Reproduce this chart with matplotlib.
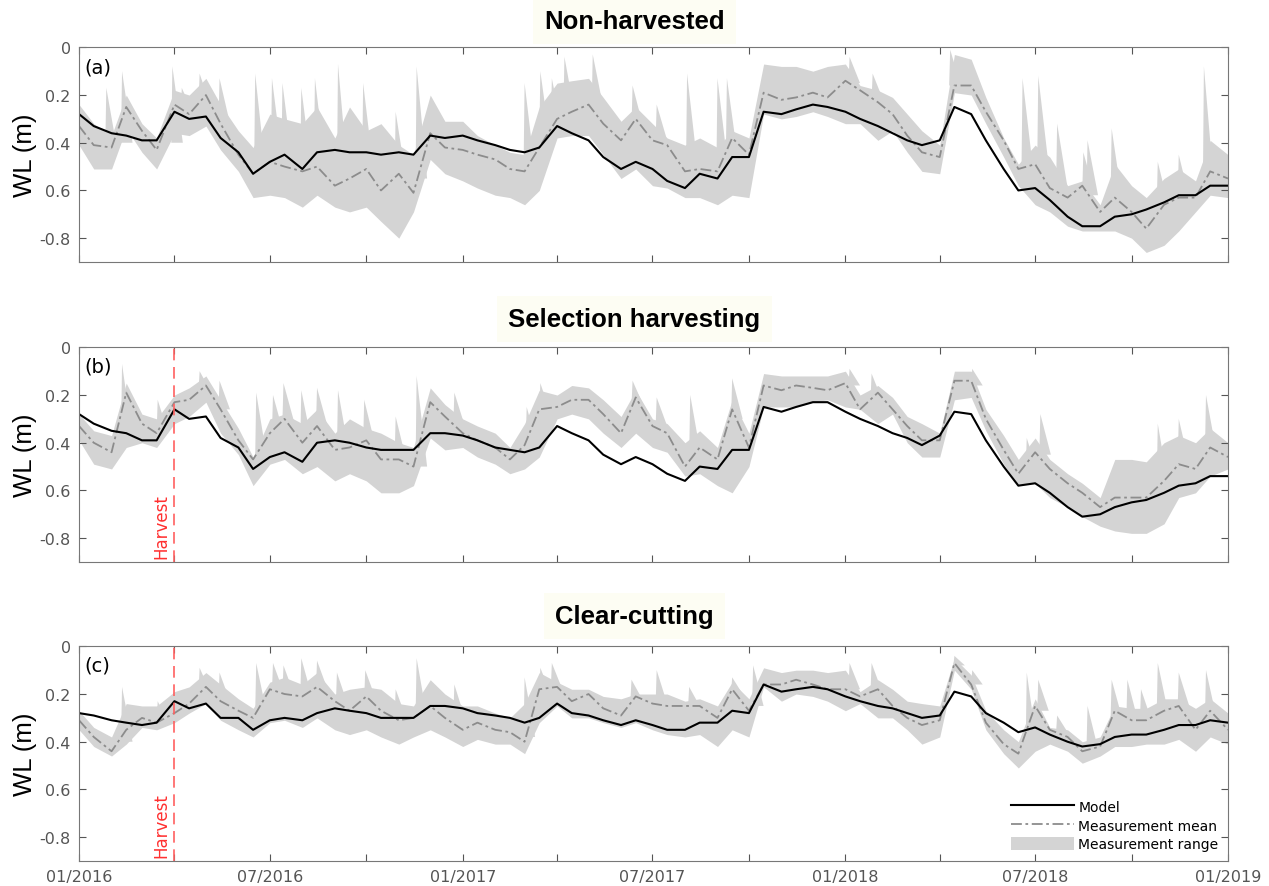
import numpy as np
import pandas as pd
import matplotlib
matplotlib.use('Agg')
import matplotlib.pyplot as plt
from matplotlib.lines import Line2D
from matplotlib.patches import Patch

# fechas: 1 y 16 de cada mes, 01/2016 - 01/2019
fechas = pd.date_range('2016-01-01', '2019-01-01', freq='SMS')
harvest = pd.Timestamp('2016-04-01')

titulos = ['Non-harvested', 'Selection harvesting', 'Clear-cutting']
letras = ['(a)', '(b)', '(c)']

## (a) Non-harvested
a_model = [0.28, 0.33, 0.36, 0.37, 0.39, 0.39, 0.27, 0.30, 0.29, 0.38, 0.44, 0.53, 0.48, 0.45, 0.51, 0.44, 0.43, 0.44, 0.44, 0.45, 0.44, 0.45, 0.37, 0.38,
           0.37, 0.39, 0.41, 0.43, 0.44, 0.42, 0.33, 0.36, 0.39, 0.46, 0.51, 0.48, 0.51, 0.56, 0.59, 0.53, 0.55, 0.46, 0.46, 0.27, 0.28, 0.26, 0.24, 0.25,
           0.27, 0.30, 0.33, 0.36, 0.39, 0.41, 0.39, 0.25, 0.28, 0.39, 0.51, 0.60, 0.59, 0.64, 0.71, 0.75, 0.75, 0.71, 0.70, 0.68, 0.65, 0.62, 0.62, 0.58,
           0.58]
a_mean = [0.33, 0.41, 0.42, 0.25, 0.35, 0.43, 0.24, 0.28, 0.20, 0.32, 0.45, 0.53, 0.48, 0.50, 0.52, 0.50, 0.58, 0.55, 0.51, 0.60, 0.53, 0.61, 0.36, 0.42,
          0.43, 0.45, 0.47, 0.51, 0.52, 0.42, 0.30, 0.27, 0.24, 0.32, 0.39, 0.30, 0.39, 0.41, 0.52, 0.51, 0.52, 0.38, 0.45, 0.19, 0.22, 0.21, 0.19, 0.21,
          0.14, 0.18, 0.23, 0.28, 0.37, 0.44, 0.46, 0.16, 0.16, 0.27, 0.39, 0.51, 0.49, 0.59, 0.63, 0.58, 0.69, 0.63, 0.69, 0.76, 0.66, 0.63, 0.63, 0.52,
          0.55]
a_low = [0.41, 0.51, 0.51, 0.34, 0.44, 0.51, 0.36, 0.37, 0.33, 0.43, 0.52, 0.63, 0.62, 0.63, 0.67, 0.62, 0.67, 0.69, 0.67, 0.73, 0.80, 0.69, 0.47, 0.53,
         0.56, 0.59, 0.62, 0.63, 0.66, 0.60, 0.38, 0.37, 0.37, 0.45, 0.55, 0.51, 0.58, 0.59, 0.63, 0.63, 0.66, 0.62, 0.63, 0.28, 0.30, 0.29, 0.27, 0.29,
         0.32, 0.32, 0.39, 0.35, 0.44, 0.52, 0.53, 0.19, 0.20, 0.32, 0.46, 0.58, 0.66, 0.69, 0.75, 0.77, 0.77, 0.77, 0.80, 0.86, 0.83, 0.77, 0.69, 0.62,
         0.63]
a_high = [0.24, 0.32, 0.37, 0.20, 0.32, 0.38, 0.18, 0.20, 0.13, 0.24, 0.35, 0.42, 0.28, 0.30, 0.32, 0.25, 0.38, 0.25, 0.35, 0.32, 0.41, 0.45, 0.20, 0.31,
          0.31, 0.37, 0.41, 0.44, 0.45, 0.25, 0.15, 0.14, 0.13, 0.21, 0.31, 0.25, 0.32, 0.38, 0.41, 0.38, 0.42, 0.35, 0.38, 0.07, 0.08, 0.08, 0.10, 0.08,
          0.07, 0.16, 0.18, 0.21, 0.28, 0.35, 0.41, 0.03, 0.05, 0.21, 0.38, 0.49, 0.41, 0.46, 0.58, 0.56, 0.66, 0.49, 0.58, 0.63, 0.55, 0.51, 0.56, 0.39,
          0.45]
# picos de lluvia del rango (fecha, cima, base)
a_pico_fecha = ['2016-01-27', '2016-02-11', '2016-03-30', '2016-04-08', '2016-04-25', '2016-05-14', '2016-06-17', '2016-07-03',
                '2016-07-13', '2016-07-31', '2016-08-13', '2016-09-04', '2016-09-28', '2016-10-29', '2016-11-18', '2017-03-01',
                '2017-03-16', '2017-03-27', '2017-04-08', '2017-05-05', '2017-06-12', '2017-07-05', '2017-08-03', '2017-09-01',
                '2017-09-10', '2018-01-05', '2018-01-27', '2018-04-11', '2018-06-19', '2018-07-04', '2018-07-22', '2018-08-16',
                '2018-08-20', '2018-09-12', '2018-10-26', '2018-11-15', '2018-12-09']
a_pico_cima = [0.17, 0.10, 0.08, 0.17, 0.11, 0.13, 0.11, 0.13, 0.15, 0.17, 0.13, 0.07, 0.15, 0.27, 0.08, 0.15,
               0.10, 0.13, 0.04, 0.03, 0.16, 0.24, 0.11, 0.13, 0.13, 0.04, 0.11, 0.01, 0.13, 0.12, 0.32, 0.44,
               0.39, 0.34, 0.48, 0.45, 0.08]
a_pico_base = [0.42, 0.40, 0.40, 0.27, 0.24, 0.32, 0.52, 0.48, 0.50, 0.52, 0.50, 0.57, 0.52, 0.55, 0.55, 0.52,
               0.42, 0.35, 0.28, 0.25, 0.33, 0.39, 0.50, 0.50, 0.45, 0.15, 0.22, 0.16, 0.51, 0.50, 0.59, 0.60,
               0.62, 0.64, 0.66, 0.63, 0.60]

## (b) Selection harvesting
b_model = [0.28, 0.32, 0.35, 0.36, 0.39, 0.39, 0.26, 0.30, 0.29, 0.38, 0.42, 0.51, 0.46, 0.44, 0.48, 0.40, 0.39, 0.40, 0.42, 0.43, 0.43, 0.43, 0.36, 0.36,
           0.37, 0.39, 0.42, 0.43, 0.44, 0.42, 0.33, 0.36, 0.39, 0.45, 0.49, 0.46, 0.49, 0.53, 0.56, 0.50, 0.51, 0.43, 0.43, 0.25, 0.27, 0.25, 0.23, 0.23,
           0.27, 0.30, 0.33, 0.36, 0.38, 0.41, 0.37, 0.27, 0.28, 0.39, 0.50, 0.58, 0.57, 0.61, 0.67, 0.71, 0.70, 0.67, 0.65, 0.64, 0.61, 0.58, 0.57, 0.54,
           0.54]
b_mean = [0.33, 0.40, 0.44, 0.19, 0.32, 0.36, 0.23, 0.22, 0.16, 0.26, 0.39, 0.47, 0.36, 0.30, 0.40, 0.33, 0.43, 0.42, 0.39, 0.47, 0.47, 0.50, 0.23, 0.29,
          0.36, 0.39, 0.42, 0.47, 0.41, 0.26, 0.25, 0.22, 0.22, 0.28, 0.36, 0.21, 0.33, 0.36, 0.50, 0.42, 0.47, 0.26, 0.42, 0.16, 0.18, 0.16, 0.17, 0.18,
          0.15, 0.26, 0.19, 0.26, 0.33, 0.39, 0.39, 0.14, 0.14, 0.30, 0.43, 0.53, 0.44, 0.51, 0.57, 0.61, 0.67, 0.63, 0.63, 0.63, 0.56, 0.49, 0.51, 0.42,
          0.46]
b_low = [0.39, 0.49, 0.51, 0.42, 0.40, 0.42, 0.32, 0.29, 0.23, 0.36, 0.45, 0.58, 0.49, 0.47, 0.53, 0.50, 0.56, 0.53, 0.56, 0.61, 0.61, 0.58, 0.38, 0.43,
         0.42, 0.46, 0.49, 0.53, 0.51, 0.46, 0.30, 0.28, 0.30, 0.36, 0.42, 0.36, 0.42, 0.44, 0.54, 0.53, 0.58, 0.61, 0.50, 0.25, 0.25, 0.25, 0.23, 0.22,
         0.25, 0.26, 0.32, 0.28, 0.40, 0.46, 0.46, 0.22, 0.21, 0.35, 0.49, 0.58, 0.57, 0.63, 0.67, 0.71, 0.75, 0.77, 0.78, 0.78, 0.74, 0.63, 0.61, 0.54,
         0.51]
b_high = [0.28, 0.35, 0.37, 0.15, 0.28, 0.30, 0.20, 0.17, 0.12, 0.22, 0.34, 0.46, 0.30, 0.28, 0.32, 0.26, 0.36, 0.30, 0.34, 0.36, 0.40, 0.42, 0.17, 0.24,
          0.30, 0.33, 0.36, 0.42, 0.32, 0.18, 0.20, 0.16, 0.17, 0.22, 0.29, 0.18, 0.30, 0.32, 0.40, 0.35, 0.42, 0.22, 0.36, 0.11, 0.12, 0.12, 0.12, 0.12,
          0.10, 0.20, 0.16, 0.21, 0.29, 0.32, 0.36, 0.10, 0.10, 0.26, 0.37, 0.47, 0.38, 0.47, 0.53, 0.57, 0.63, 0.47, 0.47, 0.48, 0.40, 0.37, 0.40, 0.34,
          0.40]
b_pico_fecha = ['2016-02-11', '2016-03-16', '2016-04-25', '2016-05-14', '2016-06-18', '2016-07-04', '2016-07-14', '2016-07-31',
                '2016-08-15', '2016-09-04', '2016-09-29', '2016-10-29', '2016-11-18', '2016-12-24', '2017-03-03', '2017-03-16',
                '2017-06-12', '2017-07-05', '2017-08-06', '2017-09-15', '2018-01-05', '2018-01-26', '2018-05-02', '2018-06-23',
                '2018-07-06', '2018-10-26', '2018-11-15', '2018-12-11']
b_pico_cima = [0.07, 0.22, 0.10, 0.14, 0.19, 0.20, 0.15, 0.18, 0.17, 0.18, 0.22, 0.29, 0.12, 0.19, 0.25, 0.15,
               0.14, 0.21, 0.20, 0.13, 0.09, 0.11, 0.09, 0.38, 0.28, 0.32, 0.30, 0.20]
b_pico_base = [0.38, 0.36, 0.18, 0.26, 0.46, 0.36, 0.31, 0.40, 0.33, 0.43, 0.40, 0.47, 0.50, 0.33, 0.41, 0.28,
               0.24, 0.33, 0.45, 0.30, 0.16, 0.22, 0.16, 0.52, 0.45, 0.58, 0.49, 0.44]

## (c) Clear-cutting
c_model = [0.28, 0.29, 0.31, 0.32, 0.33, 0.32, 0.23, 0.26, 0.24, 0.30, 0.30, 0.35, 0.31, 0.30, 0.31, 0.28, 0.26, 0.27, 0.28, 0.30, 0.30, 0.30, 0.25, 0.25,
           0.26, 0.28, 0.29, 0.30, 0.32, 0.30, 0.24, 0.28, 0.29, 0.31, 0.33, 0.31, 0.33, 0.35, 0.35, 0.32, 0.32, 0.27, 0.28, 0.16, 0.19, 0.18, 0.17, 0.18,
           0.21, 0.23, 0.25, 0.26, 0.28, 0.30, 0.29, 0.19, 0.21, 0.28, 0.32, 0.36, 0.34, 0.37, 0.40, 0.42, 0.41, 0.38, 0.37, 0.37, 0.35, 0.33, 0.33, 0.31,
           0.32]
c_mean = [0.31, 0.38, 0.44, 0.35, 0.30, 0.32, 0.28, 0.24, 0.17, 0.23, 0.27, 0.30, 0.18, 0.20, 0.21, 0.17, 0.23, 0.27, 0.21, 0.27, 0.31, 0.30, 0.25, 0.30,
          0.35, 0.32, 0.35, 0.36, 0.40, 0.18, 0.17, 0.23, 0.20, 0.26, 0.29, 0.21, 0.24, 0.25, 0.25, 0.25, 0.30, 0.18, 0.27, 0.16, 0.16, 0.14, 0.16, 0.18,
          0.18, 0.21, 0.18, 0.25, 0.30, 0.33, 0.31, 0.07, 0.16, 0.32, 0.41, 0.45, 0.25, 0.35, 0.38, 0.44, 0.42, 0.27, 0.31, 0.31, 0.27, 0.25, 0.35, 0.27,
          0.35]
c_low = [0.35, 0.42, 0.46, 0.41, 0.34, 0.35, 0.32, 0.28, 0.24, 0.31, 0.35, 0.38, 0.32, 0.31, 0.34, 0.30, 0.35, 0.37, 0.35, 0.38, 0.41, 0.38, 0.35, 0.38,
         0.42, 0.39, 0.41, 0.41, 0.45, 0.32, 0.25, 0.30, 0.30, 0.32, 0.34, 0.32, 0.35, 0.37, 0.38, 0.37, 0.42, 0.35, 0.38, 0.17, 0.23, 0.20, 0.21, 0.23,
         0.27, 0.24, 0.30, 0.30, 0.35, 0.41, 0.38, 0.10, 0.18, 0.35, 0.45, 0.51, 0.44, 0.41, 0.44, 0.49, 0.46, 0.42, 0.42, 0.41, 0.41, 0.39, 0.44, 0.38,
         0.41]
c_high = [0.27, 0.34, 0.38, 0.24, 0.25, 0.25, 0.19, 0.17, 0.11, 0.16, 0.22, 0.26, 0.15, 0.13, 0.16, 0.11, 0.20, 0.18, 0.17, 0.18, 0.24, 0.25, 0.14, 0.20,
          0.25, 0.25, 0.28, 0.30, 0.24, 0.11, 0.15, 0.18, 0.18, 0.21, 0.22, 0.20, 0.20, 0.20, 0.23, 0.22, 0.25, 0.15, 0.22, 0.09, 0.11, 0.10, 0.10, 0.11,
          0.10, 0.19, 0.14, 0.18, 0.23, 0.24, 0.25, 0.05, 0.12, 0.27, 0.35, 0.40, 0.22, 0.34, 0.35, 0.40, 0.38, 0.25, 0.26, 0.26, 0.22, 0.22, 0.26, 0.22,
          0.28]
c_pico_fecha = ['2016-02-11', '2016-03-16', '2016-04-25', '2016-05-14', '2016-06-18', '2016-07-04', '2016-07-14', '2016-07-31',
                '2016-08-15', '2016-09-03', '2016-09-30', '2016-10-29', '2016-11-18', '2016-12-24', '2017-03-01', '2017-03-16',
                '2017-03-27', '2017-06-11', '2017-07-05', '2017-08-05', '2017-09-15', '2017-10-05', '2018-01-05', '2018-01-26',
                '2018-04-15', '2018-05-02', '2018-06-23', '2018-07-04', '2018-07-22', '2018-08-20', '2018-09-12', '2018-09-27',
                '2018-10-10', '2018-10-26', '2018-11-15', '2018-12-11']
c_pico_cima = [0.17, 0.23, 0.09, 0.11, 0.07, 0.07, 0.08, 0.05, 0.06, 0.11, 0.10, 0.18, 0.05, 0.16, 0.13, 0.09,
               0.07, 0.14, 0.10, 0.17, 0.13, 0.08, 0.07, 0.07, 0.04, 0.10, 0.11, 0.14, 0.29, 0.25, 0.14, 0.14,
               0.18, 0.07, 0.11, 0.10]
c_pico_base = [0.40, 0.32, 0.19, 0.23, 0.28, 0.19, 0.20, 0.21, 0.18, 0.24, 0.22, 0.30, 0.30, 0.30, 0.38, 0.20,
               0.18, 0.22, 0.24, 0.25, 0.20, 0.25, 0.18, 0.19, 0.08, 0.16, 0.42, 0.27, 0.36, 0.43, 0.30, 0.31,
               0.31, 0.28, 0.25, 0.30]

paneles = [(a_model, a_mean, a_low, a_high, a_pico_fecha, a_pico_cima, a_pico_base),
           (b_model, b_mean, b_low, b_high, b_pico_fecha, b_pico_cima, b_pico_base),
           (c_model, c_mean, c_low, c_high, c_pico_fecha, c_pico_cima, c_pico_base)]

ticks_x = pd.date_range('2016-01-01', '2019-01-01', freq='QS')
etiquetas_x = [d.strftime('%m/%Y') if d.month in (1, 7) else '' for d in ticks_x]

gris = '#555555'
banda = '#d4d4d4'
guion = (0, (6, 2, 1.5, 2))
fig = plt.figure(figsize=(12.69, 8.87), dpi=100)
bottoms = [0.7035, 0.3653, 0.0282]
titulo_y = [0.975, 0.639, 0.304]

for k in range(3):
	model, mean, low, high, pf, pc, pb = paneles[k]
	ax = fig.add_axes([0.0623, bottoms[k], 0.9054, 0.2420])
	ax.fill_between(fechas, low, high, color=banda, linewidth=0)
	# picos estrechos del rango
	for f, cima, base in zip(pf, pc, pb):
		d = pd.Timestamp(f)
		ax.fill([d - pd.Timedelta(days=1), d, d + pd.Timedelta(days=10)], [base, cima, base],
			color=banda, linewidth=0)
	ax.plot(fechas, mean, color='#8c8c8c', linestyle=guion, linewidth=1.3)
	ax.plot(fechas, model, color='black', linewidth=1.5)

	ax.set_xlim(fechas[0], fechas[-1])
	ax.set_ylim(0.9, 0)
	ax.set_yticks([0, 0.2, 0.4, 0.6, 0.8])
	ax.set_yticklabels(['0', '0.2', '0.4', '0.6', '-0.8'])
	ax.set_xticks(ticks_x)
	if k == 2:
		ax.set_xticklabels(etiquetas_x)
	else:
		ax.set_xticklabels([])
	ax.tick_params(direction='in', top=True, right=True, length=5, color=gris,
		labelcolor=gris, labelsize=11.5, pad=6)
	for s in ax.spines.values():
		s.set_color('#777777')
	ax.set_ylabel('WL (m)', fontsize=18.5, family='Liberation Sans', labelpad=2)
	ax.text(0.005, 0.955, letras[k], transform=ax.transAxes, fontsize=14, va='top')
	fig.text(0.5, titulo_y[k], titulos[k], ha='center', va='center', fontsize=18.5,
		fontweight='bold', family='Liberation Sans',
		bbox=dict(facecolor='#fdfdf3', edgecolor='none', pad=8))

	if k > 0:
		ax.axvline(harvest, color='#ff6060', linestyle=(0, (7, 4)), linewidth=1.2)
		ax.annotate('Harvest', xy=(harvest, 0.885), xytext=(-3, 0), textcoords='offset points',
			rotation=90, ha='right', va='bottom', color='#ff3030', fontsize=12)

	if k == 2:
		handles = [Line2D([], [], color='black', linewidth=1.5),
			Line2D([], [], color='#8c8c8c', linestyle=guion, linewidth=1.3),
			Patch(facecolor=banda, edgecolor='none')]
		ax.legend(handles, ['Model', 'Measurement mean', 'Measurement range'],
			loc='lower right', frameon=False, fontsize=10, handlelength=4.5, handleheight=1.1,
			labelspacing=0.3, handletextpad=0.3, borderaxespad=0.3)

fig.savefig('out.png', dpi=100)
